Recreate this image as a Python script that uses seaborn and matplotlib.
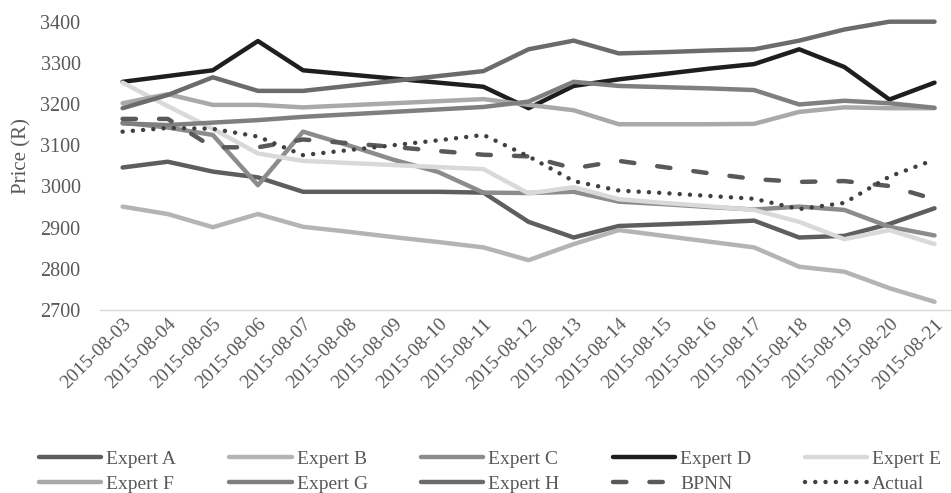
import matplotlib
matplotlib.use("Agg")
import matplotlib.pyplot as plt
import seaborn as sns
from matplotlib.lines import Line2D

dates = ['2015-08-03', '2015-08-04', '2015-08-05', '2015-08-06', '2015-08-07',
         '2015-08-08', '2015-08-09', '2015-08-10', '2015-08-11', '2015-08-12',
         '2015-08-13', '2015-08-14', '2015-08-15', '2015-08-16', '2015-08-17',
         '2015-08-18', '2015-08-19', '2015-08-20', '2015-08-21']

expert_a = [3046, 3060, 3036, 3022, 2987, 2987, 2987, 2987, 2985, 2914,
            2876, 2904, 2908, 2912, 2917, 2876, 2880, 2909, 2947]
expert_b = [2951, 2933, 2901, 2933, 2902, 2890, 2877, 2865, 2852, 2821,
            2860, 2894, 2880, 2866, 2852, 2805, 2793, 2753, 2720]
expert_c = [3155, 3143, 3125, 3003, 3133, 3100, 3065, 3035, 2985, 2984,
            2987, 2963, 2957, 2950, 2944, 2951, 2943, 2902, 2881]
expert_d = [3254, 3268, 3282, 3353, 3282, 3272, 3262, 3252, 3242, 3190,
            3244, 3260, 3273, 3286, 3297, 3333, 3290, 3211, 3252]
expert_e = [3252, 3195, 3140, 3080, 3062, 3057, 3052, 3047, 3042, 2983,
            2998, 2969, 2960, 2952, 2943, 2914, 2872, 2894, 2860]
expert_f = [3202, 3224, 3198, 3198, 3192, 3197, 3202, 3207, 3212, 3198,
            3185, 3151, 3151, 3151, 3152, 3181, 3192, 3190, 3190]
expert_g = [3153, 3149, 3155, 3161, 3169, 3175, 3181, 3187, 3193, 3206,
            3254, 3244, 3241, 3238, 3234, 3199, 3208, 3202, 3191]
expert_h = [3190, 3222, 3265, 3232, 3232, 3244, 3256, 3268, 3280, 3333,
            3354, 3323, 3326, 3330, 3333, 3354, 3381, 3400, 3400]
bpnn = [3164, 3164, 3095, 3095, 3114, 3105, 3096, 3086, 3077, 3073,
        3044, 3062, 3047, 3032, 3018, 3011, 3013, 3001, 2969]
actual = [3133, 3142, 3140, 3121, 3076, 3088, 3100, 3112, 3125, 3073,
          3013, 2990, 2984, 2977, 2970, 2945, 2960, 3024, 3065]

y_ticks = [2700, 2800, 2900, 3000, 3100, 3200, 3300, 3400]

series = [
    ('Expert A', expert_a, '#5e5e5e', '-'),
    ('Expert B', expert_b, '#b4b4b4', '-'),
    ('Expert C', expert_c, '#8c8c8c', '-'),
    ('Expert D', expert_d, '#1e1e1e', '-'),
    ('Expert E', expert_e, '#d9d9d9', '-'),
    ('Expert F', expert_f, '#a9a9a9', '-'),
    ('Expert G', expert_g, '#7f7f7f', '-'),
    ('Expert H', expert_h, '#6b6b6b', '-'),
    ('BPNN', bpnn, '#595959', (0, (3, 5.2))),
    ('Actual', actual, '#404040', (0, (0.01, 2.3))),
]

sns.set_theme(style="white")
plt.rcParams['font.family'] = ['Liberation Serif', 'DejaVu Serif']
text_color = '#595959'

fig = plt.figure(figsize=(9.51, 4.93), dpi=100)
ax = fig.add_axes([0.1052, 0.3712, 0.9012, 0.5848])

x_pos = list(range(len(dates)))
handles = {}
for name, vals, color, ls in series:
    sns.lineplot(x=x_pos, y=vals, ax=ax, color=color, linewidth=3.2, legend=False)
    line = ax.lines[-1]
    line.set_linestyle(ls)
    line.set_dash_capstyle('round')
    line.set_solid_joinstyle('round')
    line.set_clip_on(False)
    handles[name] = Line2D([0], [0], color=color, linewidth=3.2, linestyle=ls,
                           dash_capstyle='round', solid_capstyle='round')

ax.set_xlim(-0.5, len(dates) - 0.5)
ax.set_ylim(2700, 3400)
ax.set_yticks(y_ticks)
ax.set_yticklabels([str(v) for v in y_ticks], fontsize=14.5, color=text_color)
ax.set_xticks(x_pos)
ax.set_xticklabels(dates, rotation=45, ha='right', rotation_mode='anchor',
                   fontsize=14, color=text_color)
ax.set_xticks([i - 0.5 for i in range(len(dates) + 1)], minor=True)
ax.tick_params(axis='x', which='major', length=0, pad=4)
ax.tick_params(axis='x', which='minor', length=4, width=1, color='#d9d9d9')
ax.tick_params(axis='y', length=0, pad=14)

for side in ['left', 'top', 'right']:
    ax.spines[side].set_visible(False)
ax.spines['bottom'].set_color('#d9d9d9')
ax.spines['bottom'].set_linewidth(1)
ax.grid(False)

ax.set_xlabel('')
ax.set_ylabel('Price (R)', fontsize=15, color=text_color)
ax.yaxis.set_label_coords(-0.091, 0.534)
ax.yaxis.label.set_va('center')

# leyenda en filas: A-E arriba, F-Actual abajo
order = ['Expert A', 'Expert F', 'Expert B', 'Expert G', 'Expert C',
         'Expert H', 'Expert D', 'BPNN', 'Expert E', 'Actual']
fig.legend([handles[n] for n in order], order, loc='center',
           bbox_to_anchor=(0.515, 0.043), ncol=5, frameon=False,
           fontsize=14, handlelength=3.2, handletextpad=0.25,
           columnspacing=2.75, labelspacing=0.4, labelcolor=text_color)

fig.savefig('out.png', dpi=100)
